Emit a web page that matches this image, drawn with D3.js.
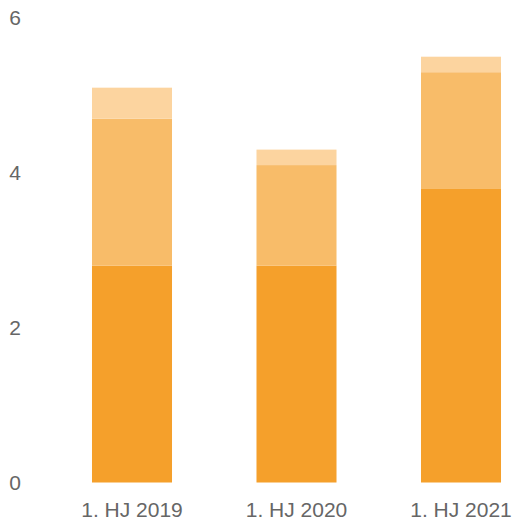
<!DOCTYPE html>
<html><head><meta charset="utf-8">
<script src="https://cdn.jsdelivr.net/npm/d3@7"></script>
<style>html,body{margin:0;padding:0;background:#fff;}svg{display:block;}</style>
</head><body>
<svg id="chart" width="516" height="520"></svg>
<script>
const categories = ["1. HJ 2019", "1. HJ 2020", "1. HJ 2021"];
const seriesNames = ["A", "B", "C"];
const seriesA = [2.8, 2.8, 3.8];
const seriesB = [1.9, 1.3, 1.5];
const seriesC = [0.4, 0.2, 0.2];
const colors = ["#f5a02b", "#f8bc69", "#fcd49f"];
const yTicks = [0, 2, 4, 6];

const svg = d3.select("#chart");
const x = d3.scaleBand().domain(categories).range([49.75, 543.25]).paddingInner(0.5136).paddingOuter(0.2568);
const y = d3.scaleLinear().domain([0, 6]).range([482.5, 18]);

const rows = categories.map((c, i) => ({cat: c, A: seriesA[i], B: seriesB[i], C: seriesC[i]}));
const stack = d3.stack().keys(seriesNames)(rows);

svg.append("g").selectAll("g").data(stack).join("g")
  .attr("fill", (d, i) => colors[i])
  .selectAll("rect").data(d => d).join("rect")
  .attr("x", d => x(d.data.cat))
  .attr("width", x.bandwidth())
  .attr("y", d => y(d[1]))
  .attr("height", d => y(d[0]) - y(d[1]));

const yAxis = svg.append("g").attr("transform", "translate(15,0)")
  .call(d3.axisLeft(y).tickValues(yTicks).tickFormat(d3.format("d")).tickSize(0).tickPadding(0));
yAxis.select(".domain").remove();
yAxis.selectAll("text").attr("text-anchor", "middle").attr("x", 0)
  .attr("fill", "#666").style("font-family", "Liberation Sans, Arial, sans-serif").style("font-size", "21px");

const xAxis = svg.append("g").attr("transform", "translate(0,482.5)")
  .call(d3.axisBottom(x).tickSize(0).tickPadding(0));
xAxis.select(".domain").remove();
xAxis.selectAll("text").attr("y", 27.5).attr("dy", "0.35em")
  .attr("fill", "#666").style("font-family", "Liberation Sans, Arial, sans-serif").style("font-size", "21px");
</script>
</body></html>
